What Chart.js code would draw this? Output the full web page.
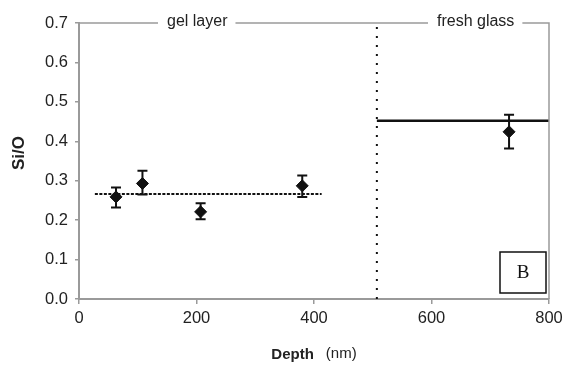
<!DOCTYPE html>
<html>
<head>
<meta charset="utf-8">
<script src="https://cdn.jsdelivr.net/npm/chart.js@4"></script>
<style>
    body { margin: 0; background: #fff; }
    canvas { display: block; }
</style>
</head>
<body>
<canvas id="siChart" width="565" height="366"></canvas>
<script>
// measured points (depth in nm, Si/O ratio) with error bar ends
const depths = [63, 108, 207, 380, 732];
const siO = [0.259, 0.293, 0.221, 0.287, 0.424];
const errHigh = [0.283, 0.325, 0.243, 0.313, 0.467];
const errLow = [0.232, 0.265, 0.202, 0.259, 0.382];

// mean levels
const gelMeanX = [27, 413];
const gelMeanY = [0.266, 0.266];
const glassMeanX = [507, 800];
const glassMeanY = [0.452, 0.452];

// gel / glass boundary
const boundaryX = [507, 507];
const boundaryY = [0, 0.7];

const xTicks = [0, 200, 400, 600, 800];
const yTicks = [0, 0.1, 0.2, 0.3, 0.4, 0.5, 0.6, 0.7];

const frameColor = '#9a9a9a';
const textColor = '#222';
const font = 'Liberation Sans, Arial, sans-serif';

const toPoints = (xs, ys) => xs.map((x, i) => ({ x: x, y: ys[i] }));

const extras = {
    id: 'extras',
    afterDatasetsDraw(chart) {
        const ctx = chart.ctx;
        const xs = chart.scales.x;
        const ys = chart.scales.y;
        const area = chart.chartArea;

        // error bars
        ctx.save();
        ctx.strokeStyle = '#111';
        ctx.lineWidth = 2;
        depths.forEach((d, i) => {
            const px = xs.getPixelForValue(d);
            const top = ys.getPixelForValue(errHigh[i]);
            const bot = ys.getPixelForValue(errLow[i]);
            ctx.beginPath();
            ctx.moveTo(px, top);
            ctx.lineTo(px, bot);
            ctx.moveTo(px - 5, top);
            ctx.lineTo(px + 5, top);
            ctx.moveTo(px - 5, bot);
            ctx.lineTo(px + 5, bot);
            ctx.stroke();
        });
        ctx.restore();

        // top frame with region labels, and right border
        ctx.save();
        ctx.strokeStyle = frameColor;
        ctx.lineWidth = 1.5;
        ctx.font = '16px ' + font;
        ctx.fillStyle = textColor;
        ctx.textBaseline = 'middle';
        const labels = [
            { text: 'gel layer', x: 167 },
            { text: 'fresh glass', x: 437 }
        ];
        let startX = area.left;
        ctx.beginPath();
        labels.forEach(l => {
            const w = ctx.measureText(l.text).width;
            ctx.moveTo(startX, area.top);
            ctx.lineTo(l.x - 9, area.top);
            ctx.fillText(l.text, l.x, area.top - 1);
            startX = l.x + w + 8;
        });
        ctx.moveTo(startX, area.top);
        ctx.lineTo(area.right, area.top);
        ctx.lineTo(area.right, area.bottom);
        ctx.stroke();
        ctx.restore();

        // panel label box
        ctx.save();
        ctx.strokeStyle = '#111';
        ctx.lineWidth = 1.5;
        ctx.strokeRect(500, 252, 46, 41);
        ctx.fillStyle = '#111';
        ctx.font = '19px "Liberation Serif", "Times New Roman", serif';
        ctx.textAlign = 'center';
        ctx.textBaseline = 'middle';
        ctx.fillText('B', 523, 273);
        ctx.restore();

        // axis titles
        ctx.save();
        ctx.fillStyle = textColor;
        ctx.textBaseline = 'middle';
        ctx.font = 'bold 15px ' + font;
        const depthW = ctx.measureText('Depth').width;
        ctx.font = '15px ' + font;
        const nmW = ctx.measureText('(nm)').width;
        const gap = 12;
        const x0 = 314 - (depthW + gap + nmW) / 2;
        ctx.font = 'bold 15px ' + font;
        ctx.fillText('Depth', x0, 355);
        ctx.font = '15px ' + font;
        ctx.fillText('(nm)', x0 + depthW + gap, 354);

        ctx.translate(19, 153);
        ctx.rotate(-Math.PI / 2);
        ctx.textAlign = 'center';
        ctx.font = 'bold 17px ' + font;
        ctx.fillText('Si/O', 0, 0);
        ctx.restore();
    }
};

new Chart(document.getElementById('siChart'), {
    data: {
        datasets: [
            {
                type: 'line',
                data: toPoints(boundaryX, boundaryY),
                borderColor: '#111',
                borderWidth: 2,
                borderDash: [2, 7],
                pointRadius: 0
            },
            {
                type: 'line',
                data: toPoints(gelMeanX, gelMeanY),
                borderColor: '#111',
                borderWidth: 2,
                borderDash: [3, 1.5],
                pointRadius: 0
            },
            {
                type: 'line',
                data: toPoints(glassMeanX, glassMeanY),
                borderColor: '#111',
                borderWidth: 2.5,
                pointRadius: 0
            },
            {
                type: 'scatter',
                data: toPoints(depths, siO),
                pointStyle: 'rectRot',
                pointRadius: 6,
                backgroundColor: '#111',
                borderColor: '#111',
                borderWidth: 1
            }
        ]
    },
    options: {
        responsive: false,
        animation: false,
        events: [],
        layout: { padding: { top: 23, right: 16, left: 0, bottom: 0 } },
        plugins: {
            legend: { display: false },
            tooltip: { enabled: false }
        },
        scales: {
            x: {
                type: 'linear',
                min: 0,
                max: 800,
                afterBuildTicks: scale => { scale.ticks = xTicks.map(v => ({ value: v })); },
                afterFit: scale => {
                    scale.height = 67;
                    scale.paddingLeft = 0;
                    scale.paddingRight = 0;
                },
                ticks: {
                    color: textColor,
                    font: { family: font, size: 16.5 },
                    padding: 5
                },
                grid: {
                    drawOnChartArea: false,
                    drawTicks: true,
                    tickLength: 5,
                    color: frameColor,
                    lineWidth: 1.5
                },
                border: { display: true, color: frameColor, width: 2 }
            },
            y: {
                min: 0,
                max: 0.7,
                afterBuildTicks: scale => { scale.ticks = yTicks.map(v => ({ value: v })); },
                afterFit: scale => {
                    scale.width = 79;
                    scale.paddingTop = 0;
                    scale.paddingBottom = 0;
                },
                ticks: {
                    color: textColor,
                    font: { family: font, size: 16.5 },
                    padding: 7,
                    callback: v => v.toFixed(1)
                },
                grid: {
                    drawOnChartArea: false,
                    drawTicks: true,
                    tickLength: 4,
                    color: frameColor,
                    lineWidth: 1.5
                },
                border: { display: true, color: frameColor, width: 2 }
            }
        }
    },
    plugins: [extras]
});
</script>
</body>
</html>
